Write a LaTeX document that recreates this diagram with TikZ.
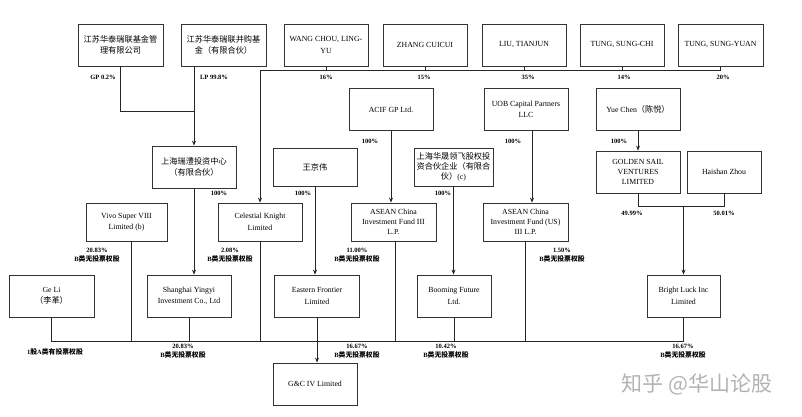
\documentclass[tikz,border=0pt]{standalone}
\usepackage{fontspec}
\setmainfont{Liberation Serif}
\newfontfamily\cjk[Scale=1.05]{Noto Sans CJK SC}
\newcommand{\zhtxt}[1]{{\cjk #1}}
\usetikzlibrary{arrows.meta}

\begin{document}
\begin{tikzpicture}[x=1pt,y=-1pt,
  ent/.style={draw=black!80,line width=0.8pt,minimum width=84pt,minimum height=42pt,inner sep=1pt,align=center,font=\fontsize{7.8}{11.5}\selectfont},
  tight/.style={font=\fontsize{7.8}{10}\selectfont},
  pct/.style={font=\fontsize{6.5}{9}\selectfont\bfseries,align=center,inner sep=0pt},
  link/.style={draw=black!85,line width=0.8pt},
  feed/.style={link,-{Stealth[length=5pt,width=4pt]}}]
  \useasboundingbox (0,0) rectangle (802,416);
  % owners on top
  \node[ent,minimum width=85pt] (jsgp) at (120.5,45) {\zhtxt{江苏华泰瑞联基金管}\\\zhtxt{理有限公司}};
  \node[ent,minimum width=85pt] (jslp) at (223.5,45) {\zhtxt{江苏华泰瑞联并购基}\\\zhtxt{金（有限合伙）}};
  \node[ent] (wang) at (326,45) {WANG CHOU, LING-\\YU};
  \node[ent] (zhang) at (425,45) {ZHANG CUICUI};
  \node[ent] (liu) at (524,45) {LIU, TIANJUN};
  \node[ent] (tchi) at (622,45) {TUNG, SUNG-CHI};
  \node[ent,minimum width=85pt] (tyuan) at (720.5,45) {TUNG, SUNG-YUAN};
  % middle tier
  \node[ent] (ruili) at (194,167) {\zhtxt{上海瑞澧投资中心}\\\zhtxt{（有限合伙）}};
  \node[ent] (acif) at (391,109.5) {ACIF GP Ltd.};
  \node[ent] (uob) at (526,109.5) {UOB Capital Partners\\LLC};
  \node[ent] (yue) at (638,109) {Yue Chen\zhtxt{（陈悦）}};
  \node[ent,minimum height=38pt] (wjw) at (315,167) {\zhtxt{王京伟}};
  \node[ent,tight,minimum width=79pt,minimum height=38pt] (hsfund) at (453.5,167) {\zhtxt{上海华晟领飞股权投}\\\zhtxt{资合伙企业（有限合}\\\zhtxt{伙）}(c)};
  \node[ent,tight] (golden) at (638,172) {GOLDEN SAIL\\VENTURES\\LIMITED};
  \node[ent,minimum width=74pt] (haishan) at (724,172) {Haishan Zhou};
  % direct holders
  \node[ent,minimum width=81pt,minimum height=38pt] (vivo) at (126.5,222) {Vivo Super VIII\\Limited (b)};
  \node[ent,minimum height=38pt] (celes) at (260,222) {Celestial Knight\\Limited};
  \node[ent,tight,minimum width=85pt,minimum height=38pt] (aseaniii) at (393.5,222) {ASEAN China\\Investment Fund III\\L.P.};
  \node[ent,tight,minimum width=85pt,minimum height=38pt] (aseanus) at (525.5,222) {ASEAN China\\Investment Fund (US)\\III L.P.};
  \node[ent,minimum width=85pt] (geli) at (51.5,296) {Ge Li\\\zhtxt{（李革）}};
  \node[ent] (yingyi) at (189,296) {Shanghai Yingyi\\Investment Co., Ltd};
  \node[ent,minimum width=85pt] (eastern) at (317,296) {Eastern Frontier\\Limited};
  \node[ent,minimum width=74pt] (booming) at (454,296) {Booming Future\\Ltd.};
  \node[ent,minimum width=73pt] (bright) at (683.5,296) {Bright Luck Inc\\Limited};
  \node[ent] (gc) at (315,384) {G\&C IV Limited};

  % top bus into Celestial Knight
  \path (wang.south) ++(0,4) coordinate (topbus);
  \draw[link] (celes.north |- topbus) -- (tyuan.south |- topbus);
  \foreach \n in {wang,zhang,liu,tchi,tyuan}
    \draw[link] (\n.south) -- (\n.south |- topbus);
  \draw[feed] (celes.north |- topbus) -- (celes.north);
  % Huatai funds
  \path (jsgp.south) ++(0,45) coordinate (jsjoin);
  \draw[link] (jsgp.south) -- (jsjoin) -- (ruili.north |- jsjoin);
  \draw[feed] (ruili.north |- jslp.south) -- (ruili.north);
  \draw[feed] (ruili.south) -- (ruili.south |- yingyi.north);
  % single parents
  \draw[feed] (wjw.south) -- (wjw.south |- eastern.north);
  \draw[feed] (acif.south) -- (acif.south |- aseaniii.north);
  \draw[feed] ([xshift=6pt]uob.south) -- ([xshift=6pt]uob.south |- aseanus.north);
  \draw[feed] (hsfund.south) -- (hsfund.south |- booming.north);
  \draw[feed] (yue.south) -- (golden.north);
  % Golden Sail + Haishan Zhou
  \path (golden.south) ++(0,13) coordinate (gsy);
  \draw[link] (golden.south) -- (golden.south |- gsy) -- (haishan.south |- gsy) -- (haishan.south);
  \draw[feed] (bright.north |- gsy) -- (bright.north);
  % bottom bus
  \path (geli.south) ++(0,24) coordinate (botbus);
  \draw[link] (geli.south) -- (botbus) -- (bright.south |- botbus) -- (bright.south);
  \foreach \n in {celes,aseanus,yingyi,booming}
    \draw[link] (\n.south) -- (\n.south |- botbus);
  \draw[link] ([xshift=4.5pt]vivo.south) -- ([xshift=4.5pt]vivo.south |- botbus);
  \draw[link] ([xshift=1.5pt]aseaniii.south) -- ([xshift=1.5pt]aseaniii.south |- botbus);
  \draw[feed] (eastern.south) -- (eastern.south |- gc.north);

  % percentages
  \node[pct] (lgp) at (103,77) {GP 0.2\%};
  \node[pct] (llp) at (214,77) {LP 99.8\%};
  \foreach \x/\v in {326/16,424/15,528/35,624/14,723/20}
    \node[pct] (own\v) at (\x,77) {\v\%};
  \foreach \x/\y/\nm in {219/193/pruili,303/193/pwjw,443/193/phs,370/141/pacif,513/141/puob,619/141/pyue}
    \node[pct] (\nm) at (\x,\y) {100\%};
  \node[pct] (pgold) at (632,213) {49.99\%};
  \node[pct] (phai) at (724,213) {50.01\%};
  \node[pct] (lvivo) at (97,255.5) {20.83\%\\B\zhtxt{类无投票权股}};
  \node[pct] (lceles) at (230,255.5) {2.08\%\\B\zhtxt{类无投票权股}};
  \node[pct] (laseaniii) at (357,255.5) {11.00\%\\B\zhtxt{类无投票权股}};
  \node[pct] (laseanus) at (562,255.5) {1.50\%\\B\zhtxt{类无投票权股}};
  \node[pct] (lgeli) at (55,352) {1\zhtxt{股}A\zhtxt{类有投票权股}};
  \node[pct] (lyingyi) at (183,351.5) {20.83\%\\B\zhtxt{类无投票权股}};
  \node[pct] (leastern) at (357,351.5) {16.67\%\\B\zhtxt{类无投票权股}};
  \node[pct] (lbooming) at (446,351.5) {10.42\%\\B\zhtxt{类无投票权股}};
  \node[pct] (lbright) at (683,351.5) {16.67\%\\B\zhtxt{类无投票权股}};
  % watermark
  \node[font=\cjk\fontsize{20}{20}\selectfont,text=black!30] (zhihu) at (697,384) {知乎 @华山论股};
\end{tikzpicture}
\end{document}
